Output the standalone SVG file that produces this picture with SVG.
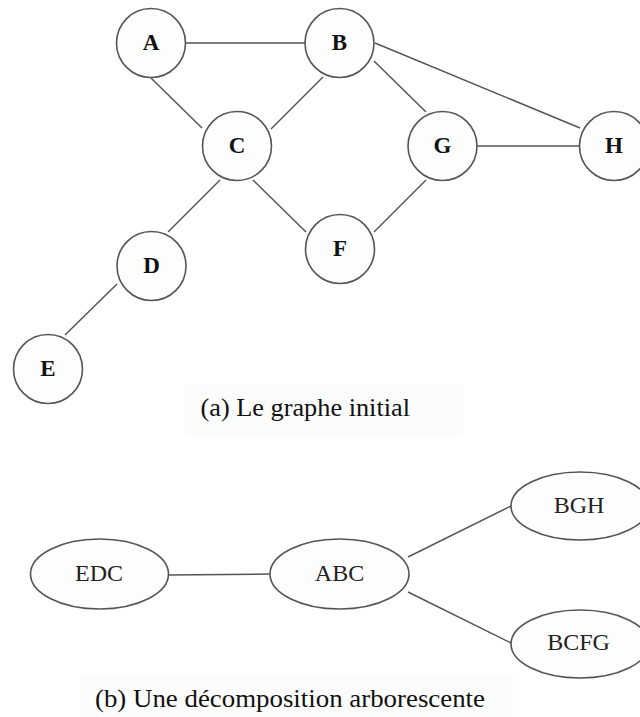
<svg xmlns="http://www.w3.org/2000/svg" width="640" height="717" viewBox="0 0 640 717">
<style>
.n{fill:#fdfdfd;stroke:#555;stroke-width:1.6}
.e{stroke:#555;stroke-width:1.5;fill:none}
.lb{font-family:"Liberation Serif","Times New Roman",serif;font-weight:bold;font-size:23px;text-anchor:middle;fill:#111}
.lt{font-family:"Liberation Serif","Times New Roman",serif;font-size:24px;text-anchor:middle;fill:#222}
.cap{font-family:"Liberation Serif","Times New Roman",serif;font-size:26px;fill:#111}
.bg{fill:#fcfcfc}
</style>
<rect width="640" height="717" fill="#fff"/>
<rect class="bg" x="185" y="385" width="278" height="52"/>
<rect class="bg" x="80" y="674" width="433" height="43"/>
<g id="connectors">
<line class="e" x1="185.5" y1="43" x2="305" y2="43"/>
<line class="e" x1="151" y1="78" x2="202" y2="128"/>
<line class="e" x1="271" y1="129" x2="323" y2="77"/>
<line class="e" x1="374" y1="61" x2="426" y2="112"/>
<line class="e" x1="375" y1="43" x2="580" y2="128"/>
<line class="e" x1="477" y1="146" x2="579" y2="146"/>
<line class="e" x1="426" y1="180" x2="374" y2="232"/>
<line class="e" x1="253" y1="180" x2="306" y2="232"/>
<line class="e" x1="220" y1="180" x2="168" y2="232"/>
<line class="e" x1="117" y1="284" x2="65" y2="335"/>
<line class="e" x1="168.5" y1="575" x2="270" y2="574"/>
<line class="e" x1="408" y1="557" x2="511" y2="506"/>
<line class="e" x1="408" y1="592" x2="511" y2="643"/>
</g>
<g id="A"><circle class="n" cx="151" cy="43" r="34.5"/><text class="lb" x="151" y="50">A</text></g>
<g id="B"><circle class="n" cx="339.5" cy="43" r="34.5"/><text class="lb" x="339.5" y="50">B</text></g>
<g id="C"><circle class="n" cx="237" cy="146" r="34.5"/><text class="lb" x="237" y="153">C</text></g>
<g id="G"><circle class="n" cx="442.5" cy="146" r="34.5"/><text class="lb" x="442.5" y="153">G</text></g>
<g id="H"><circle class="n" cx="614" cy="146" r="34.5"/><text class="lb" x="614" y="153">H</text></g>
<g id="F"><circle class="n" cx="340" cy="249" r="34.5"/><text class="lb" x="340" y="256">F</text></g>
<g id="D"><circle class="n" cx="151.5" cy="266" r="34.5"/><text class="lb" x="151.5" y="273">D</text></g>
<g id="E"><circle class="n" cx="48" cy="369" r="34.5"/><text class="lb" x="48" y="376">E</text></g>
<text class="cap" x="200.5" y="416" textLength="209.5" lengthAdjust="spacingAndGlyphs">(a) Le graphe initial</text>
<g id="EDC"><ellipse class="n" cx="99.5" cy="574" rx="69" ry="35"/><text class="lt" x="99" y="581">EDC</text></g>
<g id="ABC"><ellipse class="n" cx="339.5" cy="574" rx="69.5" ry="35"/><text class="lt" x="339.5" y="581">ABC</text></g>
<g id="BGH"><ellipse class="n" cx="580" cy="506" rx="69" ry="34"/><text class="lt" x="579" y="513">BGH</text></g>
<g id="BCFG"><ellipse class="n" cx="580" cy="644" rx="69" ry="34"/><text class="lt" x="578.5" y="650">BCFG</text></g>
<text class="cap" x="95" y="707" textLength="390" lengthAdjust="spacingAndGlyphs">(b) Une décomposition arborescente</text>
</svg>
